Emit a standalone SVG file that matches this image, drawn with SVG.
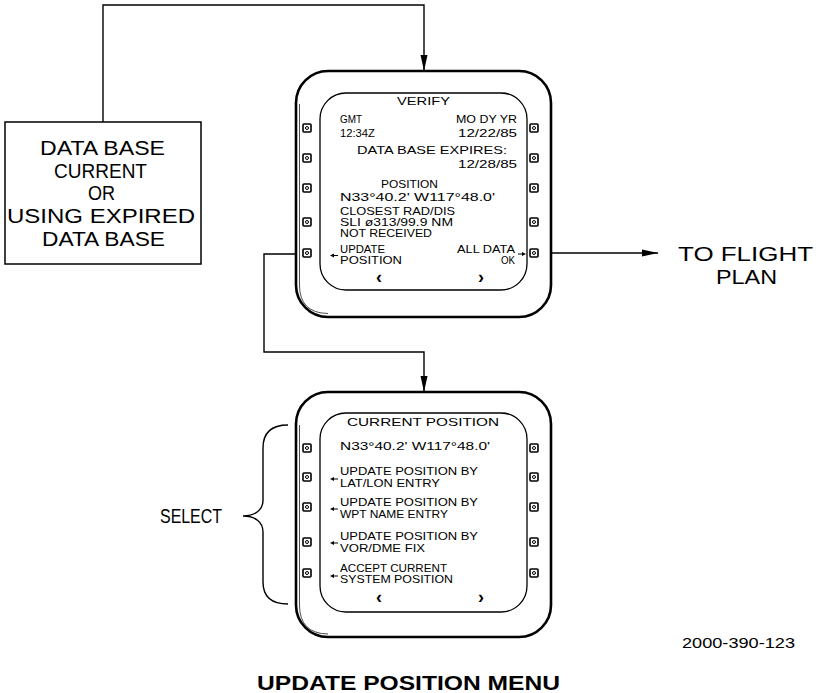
<svg xmlns="http://www.w3.org/2000/svg" xmlns:xlink="http://www.w3.org/1999/xlink" width="821" height="693" viewBox="0 0 821 693">
<style>
.t{font-family:"Liberation Sans",Arial,sans-serif;font-size:10.5px;fill:#000}
.big{font-family:"Liberation Sans",Arial,sans-serif;font-size:20px;fill:#000}
.chev{font-family:"Liberation Sans",Arial,sans-serif;font-weight:bold;font-size:18px;fill:#000}
.ttl{font-family:"Liberation Sans",Arial,sans-serif;font-weight:bold;font-size:20px;fill:#000}
.num{font-family:"Liberation Sans",Arial,sans-serif;font-size:14px;fill:#000}
.outer{fill:none;stroke:#000;stroke-width:2.6}
.outer2{fill:none;stroke:#000;stroke-width:0.7}
.inner{fill:none;stroke:#000;stroke-width:1.3}
.box{fill:none;stroke:#000;stroke-width:1.5}
.conn{fill:none;stroke:#000;stroke-width:1.4}
</style>
<defs>
<marker id="ah" markerUnits="userSpaceOnUse" markerWidth="17" markerHeight="8" refX="16" refY="4" orient="auto">
<path d="M0,0.5 L16,4 L0,7.5 z" fill="#000"/>
</marker>
<g id="btn">
<rect x="-4" y="-4" width="8" height="8" rx="1" fill="none" stroke="#000" stroke-width="1.6"/>
<circle cx="0" cy="0" r="1.5" fill="none" stroke="#000" stroke-width="1"/>
</g>
<g id="la">
<path d="M0,0 L4,-2 L4,2 z" fill="#000"/>
<line x1="3" y1="0" x2="8" y2="0" stroke="#000" stroke-width="1"/>
</g>
<g id="ra">
<path d="M8,0 L4,-2 L4,2 z" fill="#000"/>
<line x1="0" y1="0" x2="5" y2="0" stroke="#000" stroke-width="1"/>
</g>
</defs>
<rect x="0" y="0" width="821" height="693" fill="#fff"/>

<g id="connectors">
<path class="conn" d="M103,122 V5 H424 V71" marker-end="url(#ah)"/>
<path class="conn" d="M296,254 H264 V352 H424 V392" marker-end="url(#ah)"/>
<path class="conn" d="M551,253 H658" marker-end="url(#ah)"/>
</g>

<g id="database-box">
<rect class="box" x="5" y="122" width="196" height="142"/>
<text class="big" x="40" y="155" textLength="125" lengthAdjust="spacingAndGlyphs">DATA BASE</text>
<text class="big" x="54" y="177.5" textLength="93" lengthAdjust="spacingAndGlyphs">CURRENT</text>
<text class="big" x="88" y="200" textLength="27" lengthAdjust="spacingAndGlyphs">OR</text>
<text class="big" x="7" y="223" textLength="188" lengthAdjust="spacingAndGlyphs">USING EXPIRED</text>
<text class="big" x="42" y="246" textLength="123" lengthAdjust="spacingAndGlyphs">DATA BASE</text>
</g>

<g id="verify-screen">
<rect class="outer" x="296" y="71" width="255" height="246" rx="32"/>
<path class="outer2" d="M299.5,104 V285 Q299.5,313 328,313.5"/>
<rect class="inner" x="320" y="93" width="207" height="197" rx="26"/>
<use xlink:href="#btn" x="307" y="128"/>
<use xlink:href="#btn" x="307" y="158"/>
<use xlink:href="#btn" x="307" y="188"/>
<use xlink:href="#btn" x="307" y="222"/>
<use xlink:href="#btn" x="307" y="253"/>
<use xlink:href="#btn" x="534" y="128"/>
<use xlink:href="#btn" x="534" y="158"/>
<use xlink:href="#btn" x="534" y="188"/>
<use xlink:href="#btn" x="534" y="222"/>
<use xlink:href="#btn" x="534" y="253"/>
<text class="t" x="397" y="105" textLength="53" lengthAdjust="spacingAndGlyphs">VERIFY</text>
<text class="t" x="340" y="123" textLength="22" lengthAdjust="spacingAndGlyphs">GMT</text>
<text class="t" x="340" y="137" textLength="35" lengthAdjust="spacingAndGlyphs">12:34Z</text>
<text class="t" x="456" y="123" textLength="61" lengthAdjust="spacingAndGlyphs">MO DY YR</text>
<text class="t" x="458" y="137" textLength="59" lengthAdjust="spacingAndGlyphs">12/22/85</text>
<text class="t" x="357" y="154" textLength="150" lengthAdjust="spacingAndGlyphs">DATA BASE EXPIRES:</text>
<text class="t" x="458" y="168" textLength="59" lengthAdjust="spacingAndGlyphs">12/28/85</text>
<text class="t" x="381" y="188" textLength="57" lengthAdjust="spacingAndGlyphs">POSITION</text>
<text class="t" x="340" y="201" textLength="155" lengthAdjust="spacingAndGlyphs">N33°40.2' W117°48.0'</text>
<text class="t" x="340" y="215" textLength="115" lengthAdjust="spacingAndGlyphs">CLOSEST RAD/DIS</text>
<text class="t" x="340" y="226" textLength="113" lengthAdjust="spacingAndGlyphs">SLI ø313/99.9 NM</text>
<text class="t" x="340" y="237" textLength="92" lengthAdjust="spacingAndGlyphs">NOT RECEIVED</text>
<use xlink:href="#la" x="330" y="255.5"/>
<text class="t" x="340" y="253" textLength="45" lengthAdjust="spacingAndGlyphs">UPDATE</text>
<text class="t" x="340" y="264" textLength="62" lengthAdjust="spacingAndGlyphs">POSITION</text>
<text class="t" x="457" y="253" textLength="58" lengthAdjust="spacingAndGlyphs">ALL DATA</text>
<text class="t" x="501" y="264" textLength="14" lengthAdjust="spacingAndGlyphs">OK</text>
<use xlink:href="#ra" x="518" y="254"/>
<text class="chev" x="376" y="283">‹</text>
<text class="chev" x="478" y="283">›</text>
</g>

<g id="current-position-screen">
<rect class="outer" x="296" y="392" width="255" height="245" rx="32"/>
<path class="outer2" d="M299.5,425 V605 Q299.5,633.5 328,634"/>
<rect class="inner" x="320" y="413" width="207" height="199" rx="26"/>
<use xlink:href="#btn" x="307" y="448"/>
<use xlink:href="#btn" x="307" y="477"/>
<use xlink:href="#btn" x="307" y="507"/>
<use xlink:href="#btn" x="307" y="542"/>
<use xlink:href="#btn" x="307" y="573"/>
<use xlink:href="#btn" x="534" y="448"/>
<use xlink:href="#btn" x="534" y="477"/>
<use xlink:href="#btn" x="534" y="507"/>
<use xlink:href="#btn" x="534" y="542"/>
<use xlink:href="#btn" x="534" y="573"/>
<text class="t" x="347" y="426" textLength="152" lengthAdjust="spacingAndGlyphs">CURRENT POSITION</text>
<text class="t" x="340" y="450" textLength="150" lengthAdjust="spacingAndGlyphs">N33°40.2' W117°48.0'</text>
<use xlink:href="#la" x="330" y="479"/>
<text class="t" x="340" y="475" textLength="138" lengthAdjust="spacingAndGlyphs">UPDATE POSITION BY</text>
<text class="t" x="340" y="487" textLength="100" lengthAdjust="spacingAndGlyphs">LAT/LON ENTRY</text>
<use xlink:href="#la" x="330" y="509"/>
<text class="t" x="340" y="506" textLength="138" lengthAdjust="spacingAndGlyphs">UPDATE POSITION BY</text>
<text class="t" x="340" y="518" textLength="108" lengthAdjust="spacingAndGlyphs">WPT NAME ENTRY</text>
<use xlink:href="#la" x="330" y="543"/>
<text class="t" x="340" y="540" textLength="138" lengthAdjust="spacingAndGlyphs">UPDATE POSITION BY</text>
<text class="t" x="340" y="552" textLength="85" lengthAdjust="spacingAndGlyphs">VOR/DME FIX</text>
<use xlink:href="#la" x="330" y="576"/>
<text class="t" x="340" y="572" textLength="107" lengthAdjust="spacingAndGlyphs">ACCEPT CURRENT</text>
<text class="t" x="340" y="583" textLength="113" lengthAdjust="spacingAndGlyphs">SYSTEM POSITION</text>
<text class="chev" x="376" y="603">‹</text>
<text class="chev" x="478" y="603">›</text>
</g>

<g id="flight-plan-label">
<text class="big" x="678" y="261" textLength="135" lengthAdjust="spacingAndGlyphs">TO FLIGHT</text>
<text class="big" x="716" y="284" textLength="61" lengthAdjust="spacingAndGlyphs">PLAN</text>
</g>

<g id="select-label">
<path class="conn" d="M288,425 C272,425 263,432 263,448 V500 C263,510 255,516 243,516 C255,516 263,522 263,532 V582 C263,597 272,604 288,604"/>
<text class="big" x="160" y="523" textLength="62" lengthAdjust="spacingAndGlyphs">SELECT</text>
</g>

<g id="captions">
<text class="num" x="682" y="648" textLength="113" lengthAdjust="spacingAndGlyphs">2000-390-123</text>
<text class="ttl" x="257" y="690" textLength="303" lengthAdjust="spacingAndGlyphs">UPDATE POSITION MENU</text>
</g>
</svg>
